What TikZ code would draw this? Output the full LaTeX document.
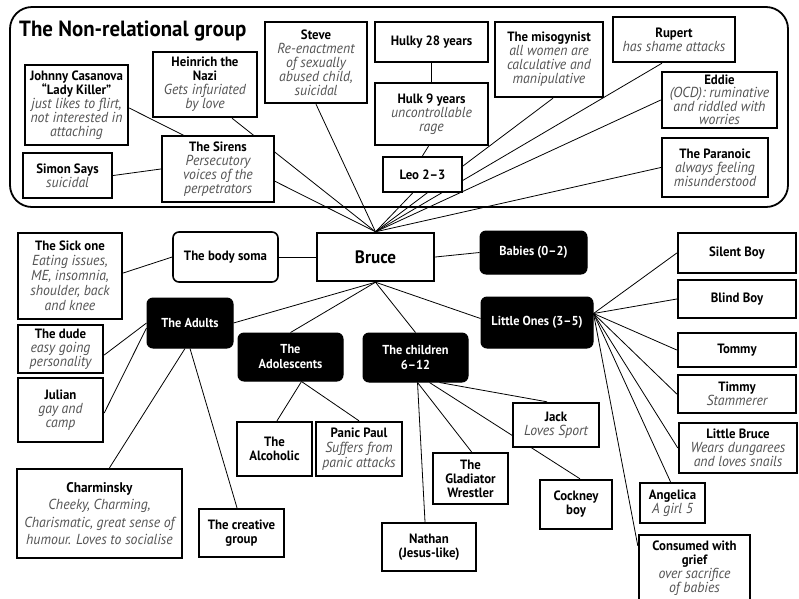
\documentclass[tikz,border=0pt]{standalone}
\usepackage{fontspec}
\setmainfont[FakeStretch=0.95]{PT Sans}
\usetikzlibrary{backgrounds}
\definecolor{descgray}{gray}{0.33}
\newcommand\descsize{\fontsize{14.5}{14}\selectfont}
\newcommand\ds[1]{{\mdseries\itshape\color{descgray}\descsize #1}}
\begin{document}
\begin{tikzpicture}[x=1pt,y=-1pt,
  sz/.style 2 args={minimum width=#1pt, minimum height=#2pt},
  box/.style={draw, line width=2.4pt, fill=white, inner sep=1pt, align=center,
    font=\fontsize{13.5}{14}\selectfont\bfseries},
  rbox/.style={box, line width=1.6pt, rounded corners=6pt},
  blk/.style={draw, line width=1pt, fill=black, text=white, rounded corners=6pt,
    inner sep=1pt, align=center, font=\fontsize{13}{15}\selectfont\bfseries},
  link/.style={line width=0.8pt},
  frame/.style={draw, line width=1.8pt, rounded corners=22pt, inner sep=0pt}
]
\useasboundingbox (0,0) rectangle (799,598);
\clip (0,0) rectangle (799,598);

% group frame
\node[frame, sz={778}{200}] (nonrel) at (399,107) {};
\node[anchor=west, inner sep=0pt, font=\fontsize{22}{24}\selectfont\bfseries] (title) at (19,31) {The Non-relational group};

% top group
\node[box, sz={103}{80}] (johnny) at (76.5,105) {Johnny Casanova\\“Lady Killer”\\\ds{just likes to flirt,}\\\ds{not interested in}\\\ds{attaching}};
\node[box, sz={104}{65}] (heinrich) at (205,84.5) {Heinrich the\\Nazi\\\ds{Gets infuriated}\\\ds{by love}};
\node[box, sz={89}{45}] (simon) at (67.5,175.5) {Simon Says\\\ds{suicidal}};
\node[box, sz={112}{66}] (sirens) at (218,169) {The Sirens\\\ds{Persecutory}\\\ds{voices of the}\\\ds{perpetrators}};
\node[box, sz={102}{81}] (steve) at (316,62.5) {Steve\\\ds{Re-enactment}\\\ds{of sexually}\\\ds{abused child,}\\\ds{suicidal}};
\node[box, sz={113}{40}] (hulky) at (431.5,42) {Hulky 28 years};
\node[box, sz={113}{62}] (hulk) at (431.5,114) {Hulk 9 years\\\ds{uncontrollable}\\\ds{rage}};
\node[box, sz={79}{35}] (leo) at (422.5,174.5) {Leo 2–3};
\node[box, sz={108}{75}] (miso) at (549,59.5) {The misogynist\\\ds{all women are}\\\ds{calculative and}\\\ds{manipulative}};
\node[box, sz={122}{45}] (rupert) at (674,39.5) {Rupert\\\ds{has shame attacks}};
\node[box, sz={115}{56}, font=\fontsize{13.5}{13.5}\selectfont\bfseries] (eddie) at (719.5,100) {Eddie\\\ds{(OCD): ruminative}\\\ds{and riddled with}\\\ds{worries}};
\node[box, sz={106}{59}] (paranoic) at (715,167.5) {The Paranoic\\\ds{always feeling}\\\ds{misunderstood}};

% middle
\node[box, sz={117}{48}, font=\fontsize{18}{20}\selectfont\bfseries] (bruce) at (375.5,257) {Bruce};
\node[rbox, sz={105}{50}] (soma) at (225.5,257) {The body soma};
\node[box, sz={104}{86}, font=\fontsize{13.5}{15}\selectfont\bfseries] (sick) at (70,276) {The Sick one\\\ds{Eating issues,}\\\ds{ME, insomnia,}\\\ds{shoulder, back}\\\ds{and knee}};
\node[blk, sz={107}{43}] (babies) at (533.5,252.5) {Babies (0–2)};
\node[blk, sz={86}{50}] (adults) at (190,323) {The Adults};
\node[blk, sz={105}{48}] (adol) at (290.5,357) {The\\Adolescents};
\node[blk, sz={105}{49}] (children) at (415.5,357.5) {The children\\6–12};
\node[blk, sz={112}{51}] (little) at (537,322.5) {Little Ones (3–5)};

% little ones
\node[box, sz={118}{40}] (silent) at (737,253) {Silent Boy};
\node[box, sz={118}{38}] (blind) at (737,299) {Blind Boy};
\node[box, sz={118}{34}] (tommy) at (737,350) {Tommy};
\node[box, sz={118}{38}] (timmy) at (737,394) {Timmy\\\ds{Stammerer}};
\node[box, sz={118}{50}] (lbruce) at (738,448) {Little Bruce\\\ds{Wears dungarees}\\\ds{and loves snails}};
\node[box, sz={65}{40}] (angelica) at (672.5,503) {Angelica\\\ds{A girl 5}};
\node[box, sz={111}{67}] (consumed) at (694.5,568.5) {Consumed with\\grief\\\ds{over sacrifice}\\\ds{of babies}};
\coordinate (lohub) at ([yshift=9pt]little.east);

% children 6-12
\node[box, sz={86}{44}] (jack) at (556,425) {Jack\\\ds{Loves Sport}};
\node[box, sz={72}{49}] (cockney) at (576,504.5) {Cockney\\boy};
\node[box, sz={75}{51}] (gladiator) at (470.5,478.5) {The\\Gladiator\\Wrestler};
\node[box, sz={94}{48}] (nathan) at (429,547) {Nathan\\(Jesus-like)};

% adolescents
\node[box, sz={75}{54}] (alcoholic) at (274.5,449) {The\\Alcoholic};
\node[box, sz={86}{54}, font=\fontsize{13.5}{15}\selectfont\bfseries] (panic) at (359,449) {Panic Paul\\\ds{Suffers from}\\\ds{panic attacks}};

% adults
\node[box, sz={85}{48}] (dude) at (60.5,349) {The dude\\\ds{easy going}\\\ds{personality}};
\node[box, sz={85}{64}] (julian) at (60.5,410) {Julian\\\ds{gay and}\\\ds{camp}};
\node[box, sz={165}{89}, font=\fontsize{14}{17.5}\selectfont\bfseries\def\descsize{\fontsize{14.5}{17.5}\selectfont}] (charminsky) at (99.5,513.5) {Charminsky\\\ds{Cheeky, Charming,}\\\ds{Charismatic, great sense of}\\\ds{humour. Loves to socialise}};
\node[box, sz={85}{48}] (creative) at (241.5,533) {The creative\\group};

\begin{pgfonlayer}{background}
% top group links
\draw[link] ([yshift=-3pt]johnny.east) -- (bruce.north);
\draw[link] ([xshift=27pt]heinrich.south) -- (bruce.north);
\draw[link] (simon.east) -- (sirens.west);
\draw[link] (steve.south) -- (bruce.north);
\draw[link] (hulky.south) -- (hulk.north);
\draw[link] ([xshift=-3pt]hulk.south) -- (leo.north);
\draw[link] ([xshift=-10pt]leo.south) -- (bruce.north);
\draw[link] ([xshift=4pt]miso.south) -- (bruce.north);
\draw[link] ([xshift=-12pt]rupert.south) -- (bruce.north);
\draw[link] (eddie.west) -- (bruce.north);
\draw[link] (paranoic.west) -- (bruce.north);
% middle links
\draw[link] (soma.east) -- (bruce.west);
\draw[link] ([yshift=3pt]sick.east) -- (soma.west);
\draw[link] (bruce.east) -- (babies.west);
\draw[link] (bruce.south) -- (adults.east);
\draw[link] (bruce.south) -- (adol.north);
\draw[link] (bruce.south) -- (children.north);
\draw[link] (bruce.south) -- ([yshift=4pt]little.west);
% little ones
\draw[link] (lohub) -- (silent.west);
\draw[link] (lohub) -- (blind.west);
\draw[link] (lohub) -- (tommy.west);
\draw[link] (lohub) -- (timmy.west);
\draw[link] (lohub) -- (lbruce.west);
\draw[link] (lohub) -- ([xshift=-2pt]angelica.north);
\draw[link] (lohub) -- ([yshift=-12pt]consumed.north west);
% children
\draw[link] ([xshift=2pt]children.south) -- ([xshift=-4pt]nathan.north);
\draw[link] ([xshift=2pt]children.south) -- ([xshift=1pt]gladiator.north);
\draw[link] ([xshift=14pt]children.south) -- ([xshift=4pt]cockney.north);
\draw[link] ([xshift=24pt]children.south) -- ([xshift=-9pt]jack.north);
% adolescents
\draw[link] ([xshift=11pt]adol.south) -- ([xshift=2.5pt]alcoholic.north);
\draw[link] ([xshift=11pt]adol.south) -- (panic.north);
% adults
\draw[link] (adults.west) -- ([yshift=-6pt]dude.east);
\draw[link] ([yshift=-5pt]adults.west) -- ([yshift=-3pt]julian.east);
\draw[link] ([xshift=-5pt]adults.south) -- ([xshift=10pt]charminsky.north);
\draw[link] (adults.south) -- ([xshift=-4.5pt]creative.north);
\end{pgfonlayer}
\end{tikzpicture}
\end{document}
